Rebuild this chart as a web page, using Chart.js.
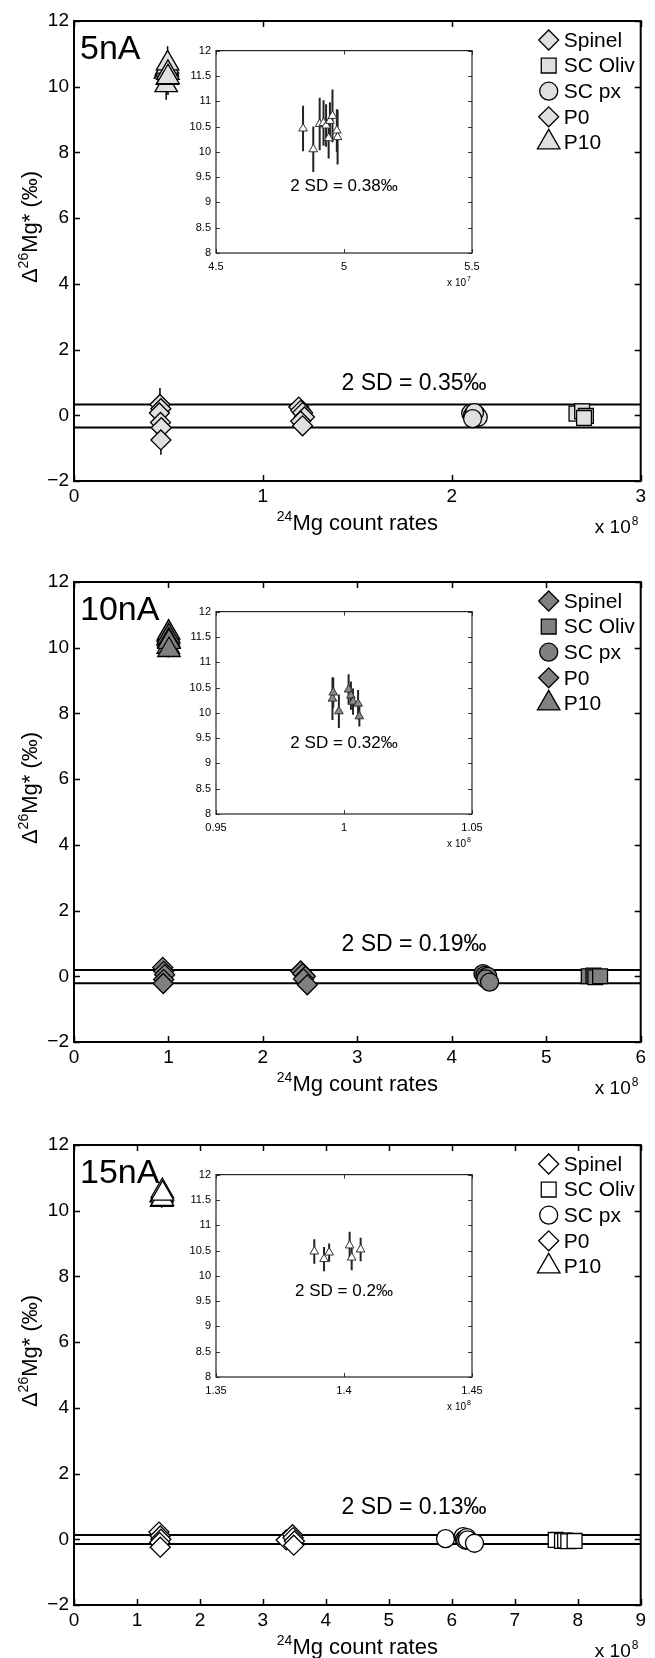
<!DOCTYPE html>
<html>
<head>
<meta charset="utf-8">
<script src="https://cdn.jsdelivr.net/npm/chart.js@4.4.1/dist/chart.umd.min.js"></script>
<style>
  html, body { margin: 0; padding: 0; background: #fff; }
  body { width: 655px; height: 1658px; position: relative; overflow: hidden; }
</style>
</head>
<body>
<script>
const FONT = "'Liberation Sans', Arial, Helvetica, sans-serif"

// legend order: Spinel, SC Oliv, SC px, P0, P10
const seriesNames = ["Spinel", "SC Oliv", "SC px", "P0", "P10"]
const seriesShapes = ["rectRot", "rect", "circle", "rectRot", "triangle"]

const panelCurrents = ["5nA", "10nA", "15nA"]
const xMaxes = [3e8, 6e8, 9e8]
const sdLabels = ["2 SD = 0.35‰", "2 SD = 0.19‰", "2 SD = 0.13‰"]
const sdBands = [[0.33, -0.37], [0.19, -0.21], [0.13, -0.14]]
const insetLabels = ["2 SD = 0.38‰", "2 SD = 0.32‰", "2 SD = 0.2‰"]
const insetXRanges = [[4.5e7, 5.5e7], [0.95e8, 1.05e8], [1.35e8, 1.45e8]]
const insetXSteps = [0.5e7, 0.05e8, 0.05e8]
const insetXExps = [7, 8, 8]
const insetNoteY = [9.32, 9.4, 9.7]

// ---- 5 nA ----
const spinelX5 = [1.19e8, 1.2e8, 1.21e8, 1.22e8, 1.2e8, 1.21e8]
const spinelY5 = [0.25, 0.15, 0.08, -0.05, -0.18, -0.32]
const spinelE5 = [0.3, 0.28, 0.3, 0.28, 0.3, 0.3]
const olivX5 = [2.66e8, 2.69e8, 2.71e8, 2.7e8]
const olivY5 = [0.05, 0.12, -0.02, -0.08]
const olivE5 = [0.15, 0.15, 0.15, 0.15]
const pxX5 = [2.1e8, 2.11e8, 2.12e8, 2.13e8, 2.14e8, 2.12e8, 2.11e8]
const pxY5 = [0.06, 0.0, -0.03, 0.02, -0.06, 0.08, -0.1]
const pxE5 = [0.15, 0.15, 0.15, 0.15, 0.15, 0.15, 0.15]
const p0X5 = [4.55e7, 4.6e7, 4.52e7, 4.58e7, 4.62e7, 4.6e7]
const p0Y5 = [0.33, 0.2, 0.07, -0.22, -0.38, -0.75]
const p0E5 = [0.5, 0.35, 0.35, 0.35, 0.35, 0.45]
const p10X5 = [4.84e7, 4.88e7, 4.905e7, 4.92e7, 4.93e7, 4.945e7, 4.955e7, 4.94e7, 4.972e7, 4.975e7]
const p10Y5 = [10.46, 10.05, 10.55, 10.57, 10.52, 10.61, 10.71, 10.27, 10.42, 10.29]
const p10E5 = [0.45, 0.45, 0.52, 0.45, 0.42, 0.37, 0.52, 0.4, 0.42, 0.54]

// ---- 10 nA ----
const spinelX10 = [2.4e8, 2.42e8, 2.45e8, 2.43e8, 2.47e8]
const spinelY10 = [0.16, 0.08, 0.0, -0.08, -0.26]
const spinelE10 = [0.15, 0.15, 0.15, 0.15, 0.15]
const olivX10 = [5.45e8, 5.5e8, 5.52e8, 5.57e8]
const olivY10 = [0.0, 0.02, -0.03, 0.0]
const olivE10 = [0.1, 0.1, 0.1, 0.1]
const pxX10 = [4.33e8, 4.35e8, 4.37e8, 4.38e8, 4.36e8, 4.4e8]
const pxY10 = [0.08, 0.03, -0.02, 0.0, -0.08, -0.18]
const pxE10 = [0.1, 0.1, 0.1, 0.1, 0.1, 0.1]
const p0X10 = [0.94e8, 0.95e8, 0.96e8, 0.95e8, 0.945e8]
const p0Y10 = [0.27, 0.15, 0.05, -0.1, -0.22]
const p0E10 = [0.15, 0.15, 0.15, 0.15, 0.15]
const p10X10 = [0.9955e8, 0.9958e8, 0.998e8, 1.0018e8, 1.0027e8, 1.0035e8, 1.0055e8, 1.006e8]
const p10Y10 = [10.28, 10.4, 10.03, 10.46, 10.34, 10.22, 10.18, 9.93]
const p10E10 = [0.42, 0.3, 0.33, 0.3, 0.28, 0.26, 0.27, 0.2]

// ---- 15 nA ----
const spinelX15 = [3.37e8, 3.47e8, 3.48e8, 3.5e8, 3.49e8]
const spinelY15 = [-0.02, 0.14, 0.05, -0.05, -0.18]
const spinelE15 = [0.1, 0.1, 0.1, 0.1, 0.1]
const olivX15 = [7.65e8, 7.75e8, 7.8e8, 7.85e8, 7.95e8]
const olivY15 = [-0.02, -0.05, -0.04, -0.06, -0.05]
const olivE15 = [0.06, 0.06, 0.06, 0.06, 0.06]
const pxX15 = [5.9e8, 6.18e8, 6.2e8, 6.22e8, 6.24e8, 6.25e8, 6.36e8]
const pxY15 = [0.02, 0.08, 0.0, -0.03, 0.05, -0.02, -0.12]
const pxE15 = [0.08, 0.08, 0.08, 0.08, 0.08, 0.08, 0.08]
const p0X15 = [1.35e8, 1.37e8, 1.38e8, 1.36e8, 1.37e8]
const p0Y15 = [0.22, 0.1, 0.0, -0.1, -0.24]
const p0E15 = [0.12, 0.12, 0.12, 0.12, 0.12]
const p10X15 = [1.3884e8, 1.3922e8, 1.3942e8, 1.4022e8, 1.403e8, 1.4065e8]
const p10Y15 = [10.48, 10.33, 10.46, 10.6, 10.36, 10.52]
const p10E15 = [0.24, 0.24, 0.18, 0.27, 0.25, 0.23]

const panelSeries = [
  [[spinelX5, spinelY5, spinelE5], [olivX5, olivY5, olivE5], [pxX5, pxY5, pxE5], [p0X5, p0Y5, p0E5], [p10X5, p10Y5, p10E5]],
  [[spinelX10, spinelY10, spinelE10], [olivX10, olivY10, olivE10], [pxX10, pxY10, pxE10], [p0X10, p0Y10, p0E10], [p10X10, p10Y10, p10E10]],
  [[spinelX15, spinelY15, spinelE15], [olivX15, olivY15, olivE15], [pxX15, pxY15, pxE15], [p0X15, p0Y15, p0E15], [p10X15, p10Y15, p10E15]],
]

// styling
const markerFills = ["#e0e0e0", "#808080", "#ffffff"]
const insetFills = ["#ffffff", "#8a8a8a", "#ffffff"]
const markerRadii = [10, 10.5, 9, 10, 13]
const canvasTops = [0, 561, 1124]
const canvasHeights = [561, 563, 534]

Chart.defaults.font.family = FONT
Chart.defaults.color = "#000"

const fmt = (v) => String(Math.round(v * 100) / 100)

// MATLAB-like box: white area, error bars under markers, inward ticks on all sides
const matlabAxes = {
  id: "matlabAxes",
  defaults: { tickLen: 6, frameWidth: 2, frameColor: "#000", errWidth: 1.5, errColor: "#000" },
  beforeDraw(chart) {
    const { ctx, chartArea: a } = chart
    ctx.save()
    ctx.fillStyle = "#fff"
    ctx.fillRect(a.left, a.top, a.right - a.left, a.bottom - a.top)
    ctx.restore()
  },
  beforeDatasetsDraw(chart, args, opts) {
    const { ctx, chartArea: a, scales: { x, y } } = chart
    ctx.save()
    ctx.beginPath()
    ctx.rect(a.left, a.top, a.right - a.left, a.bottom - a.top)
    ctx.clip()
    ctx.strokeStyle = opts.errColor
    ctx.lineWidth = opts.errWidth
    chart.data.datasets.forEach((ds) => {
      if (!ds.errors) return
      ds.data.forEach((pt, i) => {
        const px = x.getPixelForValue(pt.x)
        ctx.beginPath()
        ctx.moveTo(px, y.getPixelForValue(pt.y - ds.errors[i]))
        ctx.lineTo(px, y.getPixelForValue(pt.y + ds.errors[i]))
        ctx.stroke()
      })
    })
    ctx.restore()
  },
  afterDraw(chart, args, opts) {
    const { ctx, chartArea: a, scales: { x, y } } = chart
    const L = opts.tickLen
    ctx.save()
    ctx.strokeStyle = opts.frameColor
    ctx.lineWidth = opts.frameWidth * 0.75
    ctx.beginPath()
    x.ticks.forEach((t) => {
      const px = Math.round(x.getPixelForValue(t.value)) + 0.5
      ctx.moveTo(px, a.bottom); ctx.lineTo(px, a.bottom - L)
      ctx.moveTo(px, a.top); ctx.lineTo(px, a.top + L)
    })
    y.ticks.forEach((t) => {
      const py = Math.round(y.getPixelForValue(t.value)) + 0.5
      ctx.moveTo(a.left, py); ctx.lineTo(a.left + L, py)
      ctx.moveTo(a.right, py); ctx.lineTo(a.right - L, py)
    })
    ctx.stroke()
    ctx.lineWidth = opts.frameWidth
    ctx.strokeRect(a.left, a.top, a.right - a.left, a.bottom - a.top)
    ctx.restore()
  },
}
Chart.register(matlabAxes)

// text with raised parts: parts = [[text, isSup], ...]
function drawSup(ctx, parts, x, y, size, align) {
  const supSize = Math.round(size * 0.65)
  const widths = parts.map(([t, sup]) => {
    ctx.font = `${sup ? supSize : size}px ${FONT}`
    return ctx.measureText(t).width
  })
  const total = widths.reduce((s, w) => s + w, 0)
  let cx = align === "right" ? x - total : align === "left" ? x : x - total / 2
  ctx.textAlign = "left"
  ctx.textBaseline = "alphabetic"
  parts.forEach(([t, sup], i) => {
    ctx.font = `${sup ? supSize : size}px ${FONT}`
    ctx.fillText(t, cx, sup ? y - size * 0.42 : y)
    cx += widths[i]
  })
}

function makeCanvas(left, top, w, h) {
  const c = document.createElement("canvas")
  c.width = w
  c.height = h
  c.style.cssText = `position:absolute;left:${left}px;top:${top}px;width:${w}px;height:${h}px`
  document.body.appendChild(c)
  return c
}

function mainDecor(p) {
  return {
    id: "mainDecor" + p,
    afterDraw(chart) {
      const { ctx, chartArea: a, scales: { y } } = chart
      ctx.save()
      ctx.fillStyle = "#000"

      ctx.font = `34px ${FONT}`
      ctx.textAlign = "left"
      ctx.textBaseline = "alphabetic"
      ctx.fillText(panelCurrents[p], a.left + 6, a.top + 38)

      ctx.font = `23px ${FONT}`
      ctx.textAlign = "center"
      ctx.textBaseline = "middle"
      ctx.fillText(sdLabels[p], a.left + 0.6 * (a.right - a.left), y.getPixelForValue(0.95))

      // legend
      seriesNames.forEach((name, s) => {
        const cy = a.top + 19 + s * 25.6
        ctx.fillStyle = markerFills[p]
        ctx.strokeStyle = "#000"
        ctx.lineWidth = 1.3
        Chart.helpers.drawPoint(ctx, {
          pointStyle: seriesShapes[s], radius: markerRadii[s], borderWidth: 1.3, rotation: 0,
        }, a.right - 92, cy)
        ctx.fillStyle = "#000"
        ctx.font = `21px ${FONT}`
        ctx.textAlign = "left"
        ctx.textBaseline = "middle"
        ctx.fillText(name, a.right - 77, cy + 1)
      })

      // axis titles
      drawSup(ctx, [["24", true], ["Mg count rates", false]], (a.left + a.right) / 2, a.bottom + 49, 22, "center")
      ctx.save()
      ctx.translate(37, a.top + 206)
      ctx.rotate(-Math.PI / 2)
      drawSup(ctx, [["Δ", false], ["26", true], ["Mg* (‰)", false]], 0, 0, 22, "center")
      ctx.restore()

      // exponent
      ctx.font = `19px ${FONT}`
      ctx.textAlign = "right"
      ctx.textBaseline = "alphabetic"
      ctx.fillText("x 10", a.right - 10, a.bottom + 52)
      ctx.font = `12px ${FONT}`
      ctx.textAlign = "left"
      ctx.fillText("8", a.right - 9, a.bottom + 44)
      ctx.restore()
    },
  }
}

function insetDecor(p) {
  return {
    id: "insetDecor" + p,
    afterDraw(chart) {
      const { ctx, chartArea: a, scales: { y } } = chart
      ctx.save()
      ctx.fillStyle = "#000"
      ctx.font = `17px ${FONT}`
      ctx.textAlign = "center"
      ctx.textBaseline = "middle"
      ctx.fillText(insetLabels[p], (a.left + a.right) / 2, y.getPixelForValue(insetNoteY[p]))
      ctx.font = `10px ${FONT}`
      ctx.textAlign = "right"
      ctx.textBaseline = "alphabetic"
      ctx.fillText("x 10", a.right - 6, a.bottom + 33)
      ctx.font = `7px ${FONT}`
      ctx.textAlign = "left"
      ctx.fillText(String(insetXExps[p]), a.right - 5, a.bottom + 28)
      ctx.restore()
    },
  }
}

function buildMain(p) {
  const canvas = makeCanvas(0, canvasTops[p], 655, canvasHeights[p])
  const datasets = panelSeries[p].map(([xs, ys, es], s) => ({
    label: seriesNames[s],
    data: xs.map((x, i) => ({ x, y: ys[i] })),
    errors: es,
    pointStyle: seriesShapes[s],
    pointRadius: markerRadii[s],
    pointBackgroundColor: markerFills[p],
    pointBorderColor: "#000",
    pointBorderWidth: 1.3,
    order: 1,
  }))
  sdBands[p].forEach((v) => {
    datasets.push({
      label: "2 SD",
      data: [{ x: 0, y: v }, { x: xMaxes[p], y: v }],
      showLine: true,
      borderColor: "#000",
      borderWidth: 2,
      pointRadius: 0,
      order: 10,
    })
  })

  new Chart(canvas, {
    type: "scatter",
    data: { datasets },
    plugins: [mainDecor(p)],
    options: {
      responsive: false,
      devicePixelRatio: 1,
      animation: false,
      events: [],
      layout: { padding: { top: 21, right: 6, bottom: 0, left: 0 } },
      plugins: {
        legend: { display: false },
        tooltip: { enabled: false },
        matlabAxes: { tickLen: 6, frameWidth: 2, errWidth: 1.5 },
      },
      scales: {
        x: {
          type: "linear",
          min: 0,
          max: xMaxes[p],
          grid: { display: false, drawTicks: false },
          border: { display: false },
          ticks: { stepSize: 1e8, padding: 4, autoSkip: false, maxRotation: 0, font: { size: 19 }, callback: (v) => fmt(v / 1e8) },
          afterFit: (sc) => { sc.height = canvasHeights[p] - 481 },
        },
        y: {
          min: -2,
          max: 12,
          grid: { display: false, drawTicks: false },
          border: { display: false },
          ticks: { stepSize: 2, padding: 5, font: { size: 19 }, callback: (v) => (v < 0 ? "\u2212" + (-v) : String(v)) },
          afterFit: (sc) => { sc.width = 74 },
        },
      },
    },
  })
}

function buildInset(p) {
  const canvas = makeCanvas(176, canvasTops[p] + 39, 316, 259)
  const [xs, ys, es] = panelSeries[p][4]
  const [xmin, xmax] = insetXRanges[p]
  const scaleX = Math.pow(10, insetXExps[p])

  new Chart(canvas, {
    type: "scatter",
    data: {
      datasets: [{
        label: "P10",
        data: xs.map((x, i) => ({ x, y: ys[i] })),
        errors: es,
        pointStyle: "triangle",
        pointRadius: 5,
        pointBackgroundColor: insetFills[p],
        pointBorderColor: "#333",
        pointBorderWidth: 1,
      }],
    },
    plugins: [insetDecor(p)],
    options: {
      responsive: false,
      devicePixelRatio: 1,
      animation: false,
      events: [],
      layout: { padding: { top: 10, right: 20, bottom: 0, left: 0 } },
      plugins: {
        legend: { display: false },
        tooltip: { enabled: false },
        matlabAxes: { tickLen: 4, frameWidth: 1.2, frameColor: "#222", errWidth: 2, errColor: "#222" },
      },
      scales: {
        x: {
          type: "linear",
          min: xmin,
          max: xmax,
          grid: { display: false, drawTicks: false },
          border: { display: false },
          ticks: { stepSize: insetXSteps[p], padding: 7, autoSkip: false, maxRotation: 0, font: { size: 11 }, callback: (v) => fmt(v / scaleX) },
          afterFit: (sc) => { sc.height = 45 },
        },
        y: {
          min: 8,
          max: 12,
          grid: { display: false, drawTicks: false },
          border: { display: false },
          ticks: { stepSize: 0.5, padding: 5, font: { size: 11 }, callback: (v) => String(v) },
          afterFit: (sc) => { sc.width = 40 },
        },
      },
    },
  })
}

for (let p = 0; p < 3; p++) buildMain(p)
for (let p = 0; p < 3; p++) buildInset(p)
</script>
</body>
</html>
